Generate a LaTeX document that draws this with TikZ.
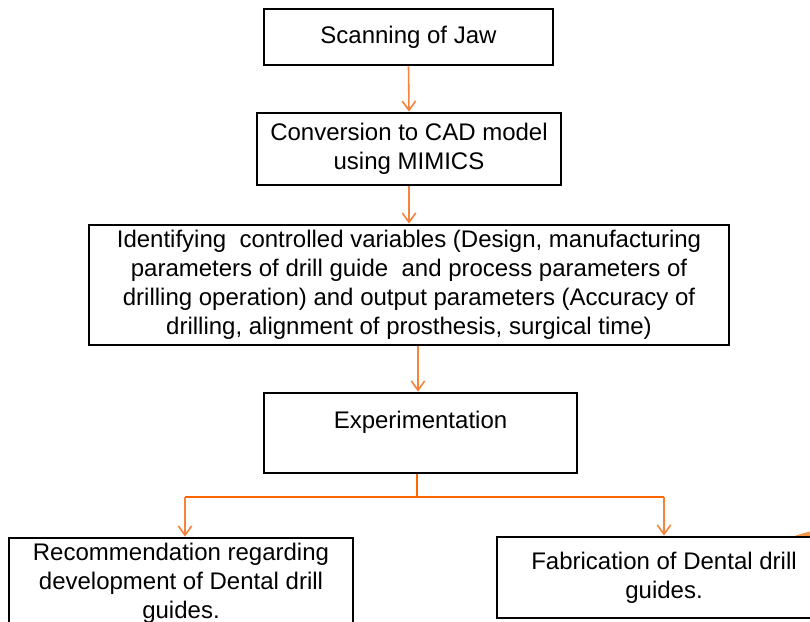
\documentclass[tikz,border=0pt]{standalone}
\usepackage{fontspec}
\setmainfont{Liberation Sans}
\usetikzlibrary{arrows.meta}

\definecolor{flowOrange}{RGB}{247,130,60}
\definecolor{splitOrange}{RGB}{255,102,0}
\definecolor{blobOrange}{RGB}{247,150,70}

\tikzset{
  stepbox/.style={draw=black, line width=2pt, fill=white, align=center,
    font=\fontsize{18}{21.75}\selectfont, inner sep=0pt},
  flow/.style={draw=flowOrange, line width=1.2pt,
    -{Straight Barb[length=7pt, width=10pt, line width=1.2pt]}},
  split/.style={draw=splitOrange, line width=1.6pt}
}

\begin{document}
\begin{tikzpicture}[x=0.75pt, y=-0.75pt]

  \useasboundingbox (0,0) rectangle (810,621);
  \clip (0,0) rectangle (810,621);

  % ================================================================
  % Orange blob peeking out above the right-hand box
  % ================================================================

  \begin{scope}
    \clip (700,500) rectangle (810,560);
    \fill[blobOrange] (835,649) circle[radius=90pt];
  \end{scope}

  % ================================================================
  % Main chain of steps
  % ================================================================

  \node[stepbox, minimum width=216.75pt, minimum height=42pt]
    (scan) at (408.5,37) {Scanning of Jaw};

  \node[stepbox, minimum width=228pt, minimum height=54pt]
    (cad) at (409,149) {Conversion to CAD model\\using MIMICS};

  \node[stepbox, minimum width=480pt, minimum height=90pt]
    (vars) at (409,285)
    {Identifying\ \ controlled variables (Design, manufacturing\\
     parameters of drill guide\ \ and process parameters of\\
     drilling operation) and output parameters (Accuracy of\\
     drilling, alignment of prosthesis, surgical time)};

  \node[stepbox, minimum width=234.75pt, minimum height=60pt,
    label={[font=\fontsize{18}{21.75}\selectfont, yshift=8pt]center:Experimentation}]
    (exp) at (420.5,433) {};

  % ================================================================
  % Outcomes
  % ================================================================

  \node[stepbox, minimum width=258pt, minimum height=68.25pt]
    (rec) at (181,583.5)
    {Recommendation regarding\\development of Dental drill\\guides.};

  \node[stepbox, minimum width=250.5pt, minimum height=60.75pt]
    (fab) at (664,577.5)
    {Fabrication of Dental drill\\guides.};

  % ================================================================
  % Arrows
  % ================================================================

  \draw[flow] (scan.south) -- (cad.north);
  \draw[flow] (cad.south) -- (vars.north -| cad.south);
  \draw[flow] (vars.south -| 418,0) -- (exp.north -| 418,0);

  % --- split below Experimentation ---
  \coordinate (fork) at (417,497);
  \coordinate (forkL) at (185,497);
  \coordinate (forkR) at (664,497);
  \draw[split] (exp.south -| fork) -- (fork);
  \draw[split] (forkL) -- (forkR);
  \draw[flow] (forkL) -- (forkL |- rec.north);
  \draw[flow] (forkR) -- (forkR |- fab.north);

\end{tikzpicture}
\end{document}
